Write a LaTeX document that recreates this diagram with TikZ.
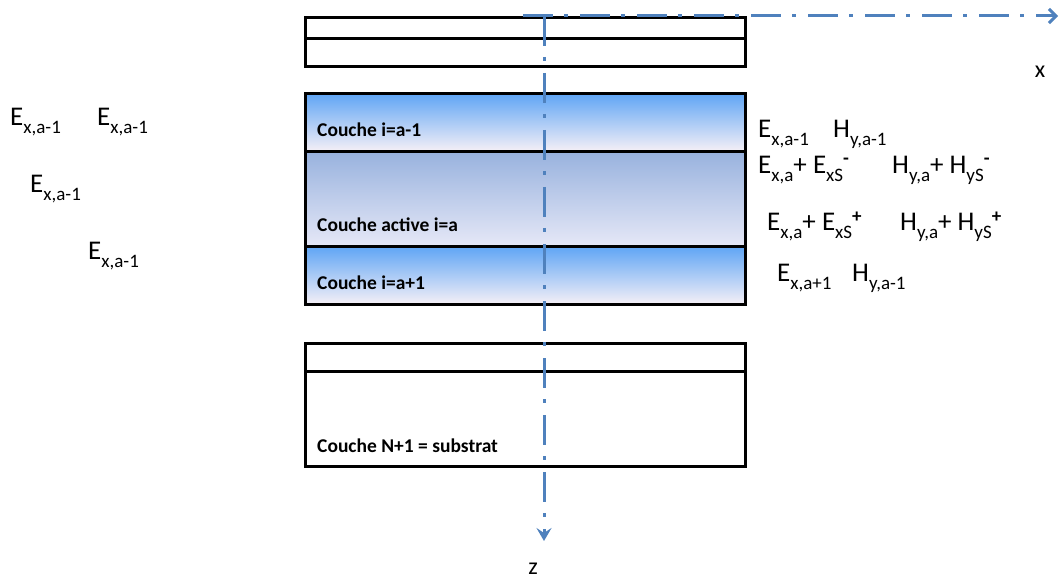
\documentclass[tikz,border=0pt]{standalone}
\usepackage{fontspec}
\setmainfont{Carlito}
\usetikzlibrary{arrows.meta}
\definecolor{axisblue}{RGB}{79,129,189}
\definecolor{laytop}{RGB}{95,165,245}
\definecolor{laybot}{RGB}{246,240,246}
\definecolor{acttop}{RGB}{152,178,222}
\definecolor{actbot}{RGB}{230,232,247}
\newcommand\subx[1]{\raisebox{-8pt}{\fontsize{19}{19}\selectfont #1}}
\newcommand\supx[1]{\raisebox{9pt}{\fontsize{19}{19}\selectfont\bfseries #1}}
\begin{document}
\begin{tikzpicture}[x=1pt,y=-1pt,
  box/.style={draw=black, line width=3pt, anchor=north west, inner sep=0pt, minimum width=440pt},
  outer/.style={box, top color=laytop, bottom color=laybot},
  active/.style={box, top color=acttop, bottom color=actbot},
  laylabel/.style={anchor=base west, inner sep=0pt, font=\fontsize{19.5}{19.5}\selectfont\bfseries},
  term/.style={anchor=base west, inner sep=0pt, font=\fontsize{27}{27}\selectfont},
  axlabel/.style={inner sep=0pt, font=\fontsize{24}{24}\selectfont},
  axis/.style={draw=axisblue, line width=3pt, dash pattern=on 30pt off 11pt on 4pt off 12pt}]
\useasboundingbox (0,0) rectangle (1060,580);
\fill[white] (0,0) rectangle (1060,580);
% top box
\node[box, minimum height=21pt] (T1) at (304,16) {};
\node[box, minimum height=28pt] (T2) at (304,37) {};
% layer stack
\node[outer, minimum height=58pt] (L1) at (304,92) {};
\node[active, minimum height=95pt] (L2) at (304,150) {};
\node[outer, minimum height=58pt] (L3) at (304,245) {};
% bottom box
\node[box, minimum height=28pt] (B1) at (304,342) {};
\node[box, minimum height=95pt] (B2) at (304,370) {};
% layer labels
\node[laylabel] (n1) at (317,137) {Couche i=a-1};
\node[laylabel] (n2) at (317,232) {Couche active i=a};
\node[laylabel] (n3) at (317,289) {Couche i=a+1};
\node[laylabel] (n4) at (317,452) {Couche N+1 = substrat};
% axes
\coordinate (Xs) at (523,16);
\coordinate (O) at (544,16);
\coordinate (X) at (1058,16);
\coordinate (Z) at (544,541);
\draw[axis, -{Straight Barb[length=7pt,width=14pt]}] (Xs) -- (X);
\draw[axis, -{Stealth[length=13pt,width=15pt,inset=5pt]}] (O) -- (Z);
\node[axlabel] (xl) at (1040,72) {x};
\node[axlabel] (zl) at (533,569) {z};
% right field labels
\node[term] (r1e) at (758,138) {E\subx{x,a-1}};
\node[term] (r1h) at (833,138) {H\subx{y,a-1}};
\node[term] (r2e) at (758,174) {E\subx{x,a}+ E\subx{xS}\supx{-}};
\node[term] (r2h) at (892,174) {H\subx{y,a}+ H\subx{yS}\supx{-}};
\node[term] (r3e) at (767,231) {E\subx{x,a}+ E\subx{xS}\supx{+}};
\node[term] (r3h) at (900,231) {H\subx{y,a}+ H\subx{yS}\supx{+}};
\node[term] (r4e) at (777,281) {E\subx{x,a+1}};
\node[term] (r4h) at (852,281) {H\subx{y,a-1}};
% left field labels
\node[term] (l1) at (10,126) {E\subx{x,a-1}};
\node[term] (l2) at (97,126) {E\subx{x,a-1}};
\node[term] (l3) at (30,193) {E\subx{x,a-1}};
\node[term] (l4) at (88,259) {E\subx{x,a-1}};
\end{tikzpicture}
\end{document}
